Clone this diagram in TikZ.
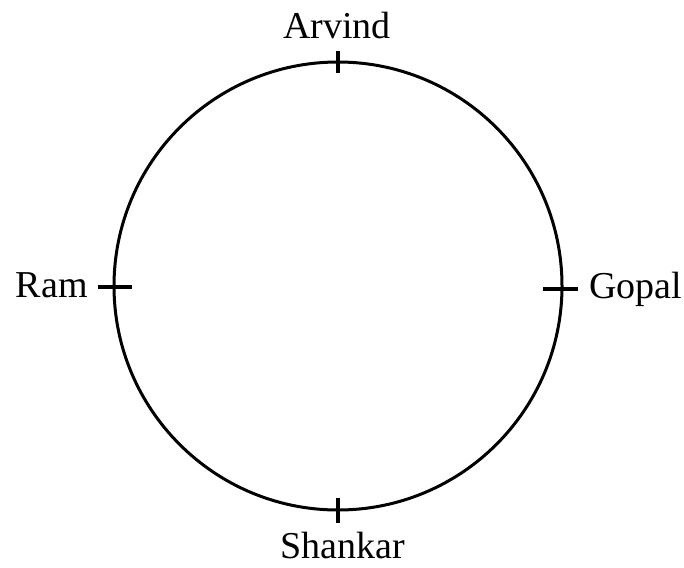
\documentclass[tikz,border=0pt]{standalone}
\usepackage{fontspec}
\setmainfont{Liberation Serif}
\usetikzlibrary{positioning}

\begin{document}
\begin{tikzpicture}[
  x=0.5pt, y=-0.5pt,
  ring/.style={draw, line width=1.5pt},
  tickmark/.style={line width=1.9pt},
  lbl/.style={font=\fontsize{19}{21}\selectfont, inner sep=0pt}
]
\useasboundingbox (0,0) rectangle (684,567);
\coordinate (c) at (338,286);
\draw[ring] (c) circle[radius=112pt];

% seats on the ring
\coordinate (top) at (338,62);
\coordinate (bot) at (338,510);
\coordinate (lft) at (115,287);
\coordinate (rgt) at (561,289);
\draw[tickmark] ([yshift=5.5pt]top) -- ([yshift=-5.5pt]top);
\draw[tickmark] ([yshift=6pt]bot) -- ([yshift=-6.5pt]bot);
\draw[tickmark] ([xshift=-8.5pt]lft) -- ([xshift=8.5pt]lft);
\draw[tickmark] ([xshift=-9pt]rgt) -- ([xshift=8.5pt]rgt);

\node[lbl, anchor=base] (arvind) at (337,39) {Arvind};
\node[lbl, anchor=base] (shankar) at (343,558) {Shankar};
\node[lbl, anchor=base east] (ram) at (88,297) {Ram};
\node[lbl, anchor=base west] (gopal) at (589,298) {Gopal};
\end{tikzpicture}
\end{document}
